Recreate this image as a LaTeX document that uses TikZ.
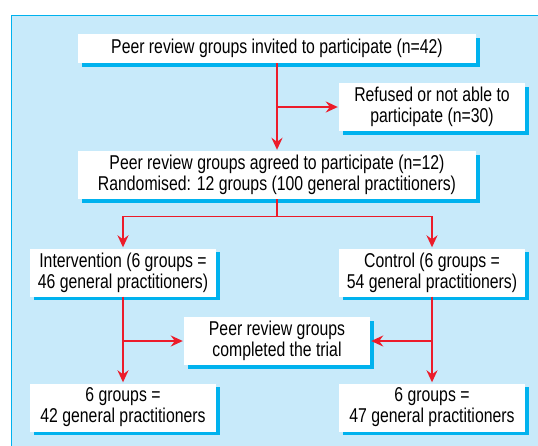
\documentclass[tikz,border=0pt]{standalone}
\usepackage{fontspec}
\setmainfont{Liberation Sans}[FakeStretch=0.79]
\usetikzlibrary{arrows.meta,shadows}
\definecolor{panelblue}{HTML}{C8EAFA}
\definecolor{shadowcyan}{HTML}{00B2EE}
\definecolor{arrowred}{HTML}{EC1C2A}
\newcommand{\boxwidth}{186pt}
\newcommand{\widewidth}{398pt}

\begin{document}
\begin{tikzpicture}[x=1pt,y=-1pt,
	box/.style={fill=white, align=center, inner sep=0pt, minimum width=\boxwidth, minimum height=48pt,
		font=\fontsize{20}{21}\selectfont,
		drop shadow={shadow xshift=4pt, shadow yshift=-3.5pt, fill=shadowcyan, opacity=1}},
	line/.style={draw=arrowred, line width=1.7pt},
	arrow/.style={line, shorten >=1pt, -{Stealth[length=12pt, width=11pt, inset=4pt]}}]
	\useasboundingbox (0,0) rectangle (538,445);
	\fill[panelblue] (11.5,15) rectangle (540,447);
	\draw[shadowcyan, line width=1pt] (11.5,447) -- (11.5,15) -- (540,15);

	\node[box, minimum width=\widewidth, minimum height=29pt] (invited) at (277,48.5) {Peer review groups invited to participate (n=42)};
	\node[box] (refused) at (432,107) {Refused or not able to\\participate (n=30)};
	\node[box, minimum width=\widewidth] (agreed) at (277,175) {Peer review groups agreed to participate (n=12)\\Randomised: 12 groups (100 general practitioners)};
	\node[box] (intervention) at (123,272.5) {Intervention (6 groups =\\46 general practitioners)};
	\node[box] (control) at (432,272.5) {Control (6 groups =\\54 general practitioners)};
	\node[box] (completed) at (277,341) {Peer review groups\\completed the trial};
	\node[box] (intfinal) at (123,407.5) {6 groups =\\42 general practitioners};
	\node[box] (confinal) at (432,407.5) {6 groups =\\47 general practitioners};
	\coordinate (split) at (277,216.5);

	\draw[arrow] (invited) -- (agreed);
	\draw[arrow] (invited.south |- refused) -- (refused.west);
	\draw[line] (agreed) -- (split);
	\draw[arrow] (split) -| (intervention);
	\draw[arrow] (split) -| (control);
	\draw[arrow] (intervention) -- (intfinal);
	\draw[arrow] (control) -- (confinal);
	\draw[arrow] (intervention.south |- completed) -- (completed.west);
	\draw[arrow] (control.south |- completed) -- (completed.east);

\end{tikzpicture}
\end{document}
